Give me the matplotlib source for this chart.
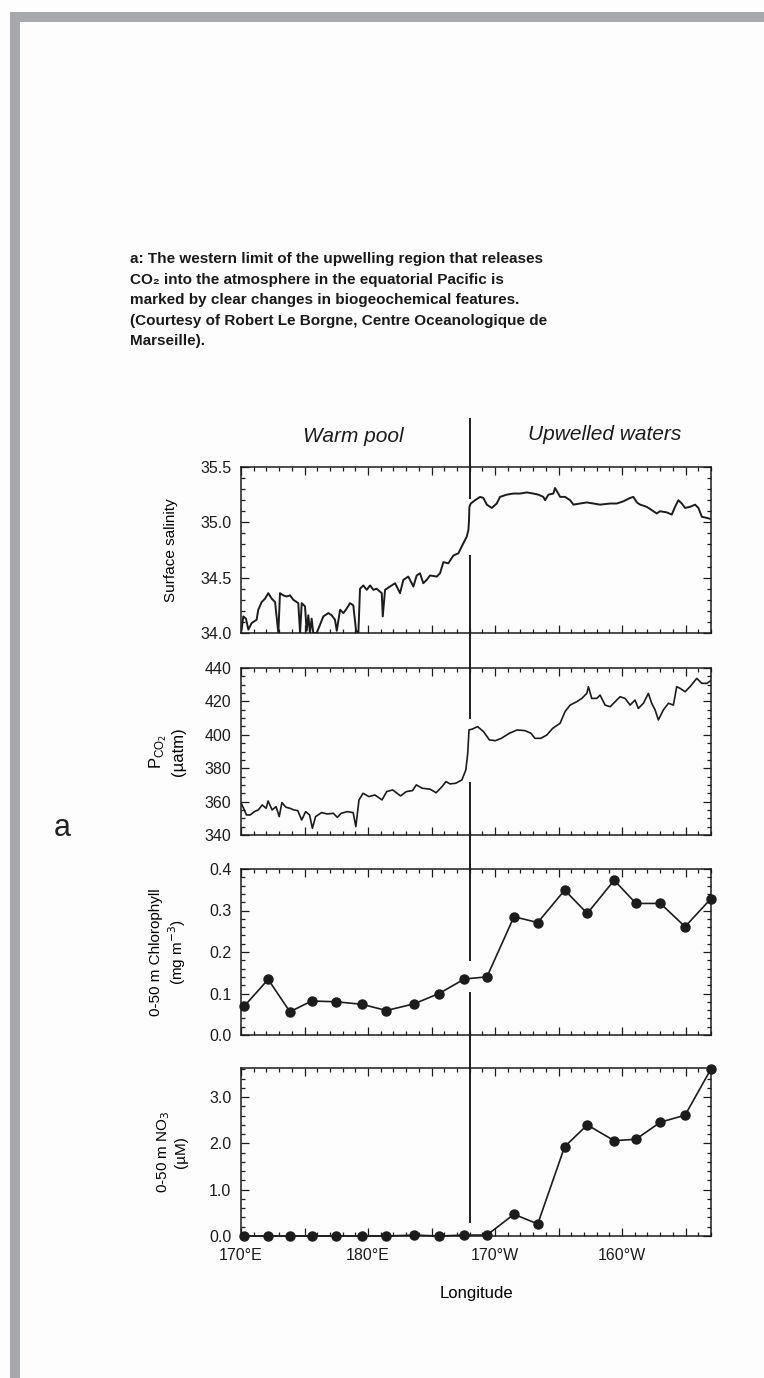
import matplotlib
matplotlib.use("Agg")
import matplotlib.pyplot as plt
import matplotlib.transforms as mtransforms
from matplotlib.patches import Rectangle
from matplotlib.lines import Line2D
from matplotlib.ticker import MultipleLocator, FormatStrFormatter

plt.rcParams['font.family'] = ['Liberation Sans', 'DejaVu Sans']

# Surface salinity trace (longitude east of Greenwich, 190 = 170W)
sal_lon = [170.05, 170.18, 170.39, 170.58, 170.84, 171.23, 171.36, 171.63, 171.89, 172.15,
           172.42, 172.68, 172.94, 173.07, 173.33, 173.60, 173.86, 174.12, 174.38, 174.51,
           174.65, 174.78, 175.04, 175.17, 175.30, 175.43, 175.56, 175.69, 175.96, 176.17,
           176.48, 176.88, 177.14, 177.40, 177.54, 177.80, 178.06, 178.32, 178.58, 178.84,
           179.06, 179.24, 179.37, 179.63, 179.90, 180.16, 180.42, 180.68, 181.08, 181.16,
           181.34, 181.73, 182.13, 182.52, 182.78, 183.17, 183.57, 183.83, 184.09, 184.35,
           184.62, 184.88, 185.41, 185.67, 185.93, 186.32, 186.72, 187.11, 187.24, 187.50,
           187.77, 187.90, 187.95, 187.98, 188.09, 188.43, 188.82, 189.08, 189.35, 189.74,
           190.13, 190.39, 190.92, 191.44, 191.97, 192.50, 193.02, 193.41, 193.80, 193.94,
           194.20, 194.59, 194.72, 194.98, 195.12, 195.51, 195.91, 196.17, 196.69, 197.22,
           197.74, 198.27, 199.06, 199.58, 200.10, 200.63, 200.89, 201.16, 201.42, 201.94,
           202.47, 202.73, 202.99, 203.52, 203.91, 204.17, 204.43, 204.70, 204.96, 205.35,
           205.75, 206.01, 206.28, 206.67, 206.98]
sal_val = [34.03, 34.15, 34.13, 34.03, 34.09, 34.12, 34.21, 34.28, 34.31, 34.36,
           34.31, 34.28, 34.00, 34.36, 34.34, 34.33, 34.34, 34.30, 34.28, 34.27,
           34.00, 34.27, 34.24, 34.02, 34.16, 34.00, 34.13, 34.00, 34.00, 34.06,
           34.15, 34.18, 34.16, 34.12, 34.02, 34.21, 34.18, 34.22, 34.27, 34.25,
           34.02, 34.00, 34.40, 34.43, 34.39, 34.43, 34.39, 34.40, 34.36, 34.15,
           34.39, 34.42, 34.45, 34.36, 34.48, 34.51, 34.42, 34.52, 34.54, 34.45,
           34.48, 34.52, 34.51, 34.54, 34.64, 34.63, 34.70, 34.72, 34.75, 34.81,
           34.87, 34.93, 35.02, 35.14, 35.17, 35.20, 35.23, 35.22, 35.16, 35.13,
           35.17, 35.23, 35.25, 35.26, 35.26, 35.27, 35.26, 35.25, 35.23, 35.20,
           35.25, 35.26, 35.31, 35.26, 35.23, 35.23, 35.20, 35.16, 35.17, 35.18,
           35.17, 35.16, 35.17, 35.17, 35.19, 35.22, 35.23, 35.18, 35.16, 35.14,
           35.10, 35.08, 35.10, 35.09, 35.07, 35.14, 35.20, 35.17, 35.13, 35.14,
           35.16, 35.13, 35.05, 35.04, 35.03]

# Surface pCO2 trace (uatm)
pco2_lon = [170.02, 170.20, 170.43, 170.73, 171.05, 171.36, 171.67, 171.98, 172.13, 172.45,
            172.76, 173.01, 173.22, 173.54, 173.85, 174.16, 174.47, 174.78, 175.09, 175.40,
            175.62, 175.87, 176.34, 176.80, 177.27, 177.58, 177.89, 178.36, 178.83, 179.04,
            179.29, 179.61, 180.07, 180.54, 181.10, 181.47, 181.94, 182.56, 183.02, 183.50,
            183.80, 184.27, 184.90, 185.36, 185.83, 186.14, 186.45, 186.91, 187.39, 187.70,
            187.85, 187.95, 188.17, 188.63, 189.09, 189.56, 190.03, 190.50, 191.12, 191.74,
            192.36, 192.83, 193.14, 193.61, 194.08, 194.54, 195.12, 195.51, 195.91, 196.43,
            196.83, 197.22, 197.35, 197.61, 198.01, 198.27, 198.66, 199.06, 199.45, 199.84,
            200.24, 200.63, 201.02, 201.28, 201.68, 202.07, 202.33, 202.60, 202.86, 203.25,
            203.65, 204.04, 204.30, 204.57, 204.96, 205.35, 205.88, 206.28, 206.67, 206.98]
pco2_val = [359.0, 356.0, 352.0, 352.0, 354.0, 355.0, 358.0, 356.0, 360.4, 355.0,
            357.0, 351.0, 359.4, 356.6, 356.0, 355.0, 354.6, 349.0, 354.0, 352.0,
            344.0, 351.0, 353.4, 352.6, 353.0, 350.6, 353.0, 354.0, 353.4, 345.0,
            361.0, 365.0, 363.0, 364.0, 361.0, 366.0, 367.0, 363.4, 366.0, 366.6,
            370.0, 368.0, 367.4, 365.3, 369.0, 372.0, 370.6, 371.0, 373.0, 379.0,
            389.0, 403.0, 403.3, 404.9, 401.9, 396.9, 396.5, 397.9, 400.9, 402.9,
            402.5, 400.9, 397.9, 397.9, 399.9, 403.9, 406.9, 413.9, 417.8, 419.8,
            421.8, 424.8, 428.8, 421.8, 421.8, 423.8, 417.8, 416.8, 419.8, 422.8,
            421.8, 417.8, 420.8, 415.8, 418.9, 424.8, 418.9, 414.9, 408.9, 414.9,
            418.9, 417.8, 428.8, 427.8, 425.8, 428.8, 433.8, 430.8, 430.8, 432.4]

# Station values, 0-50 m chlorophyll and nitrate
stn_lon = [170.27, 172.14, 173.85, 175.57, 177.50, 179.53, 181.44, 183.62, 185.59, 187.59,
           189.36, 191.49, 193.36, 195.48, 197.26, 199.38, 201.09, 203.02, 204.96, 206.98]
chl_val = [0.070, 0.134, 0.056, 0.082, 0.080, 0.074, 0.059, 0.075, 0.100, 0.135,
           0.140, 0.285, 0.271, 0.349, 0.293, 0.373, 0.317, 0.317, 0.261, 0.328]
no3_val = [0.0, 0.0, 0.0, 0.0, 0.0, 0.0, 0.0, 0.02, 0.0, 0.02,
           0.02, 0.47, 0.26, 1.93, 2.40, 2.06, 2.09, 2.46, 2.61, 3.60]

x_ticks = [170, 180, 190, 200]
x_labels = ['170°E', '180°E', '170°W', '160°W']
front_lon = 188.0

caption = ("a: The western limit of the upwelling region that releases\n"
           "CO\u2082 into the atmosphere in the equatorial Pacific is\n"
           "marked by clear changes in biogeochemical features.\n"
           "(Courtesy of Robert Le Borgne, Centre Oceanologique de\n"
           "Marseille).")

W, H = 764, 1378
fig = plt.figure(figsize=(W / 100, H / 100), dpi=100, facecolor='#fdfdfd')

# page frame
fig.add_artist(Rectangle((10 / W, 0), 10 / W, 1 - 12 / H, transform=fig.transFigure,
                         color='#a7a8ab', lw=0))
fig.add_artist(Rectangle((10 / W, 1 - 22 / H), 1 - 10 / W, 10 / H, transform=fig.transFigure,
                         color='#a7a8ab', lw=0))

fig.text(130 / W, 1 - 252 / H, caption, ha='left', va='top', fontsize=11,
         fontweight='bold', color='#1a1a1a', linespacing=1.6)
fig.text(62 / W, 1 - 828 / H, 'a', ha='center', va='center', fontsize=22, color='#222222')


def panel(top, bottom):
    return fig.add_axes([241 / W, 1 - bottom / H, 470 / W, (bottom - top) / H])


ax1 = panel(467, 633)
ax2 = panel(668, 835)
ax3 = panel(869, 1035)
ax4 = panel(1068, 1236)
axes = [ax1, ax2, ax3, ax4]

ink = '#1c1c1c'
ax1.plot(sal_lon, sal_val, color=ink, lw=1.4)
ax2.plot(pco2_lon, pco2_val, color=ink, lw=1.2)
ax3.plot(stn_lon, chl_val, color=ink, lw=1.2, marker='o', ms=6.5, clip_on=False)
ax4.plot(stn_lon, no3_val, color=ink, lw=1.2, marker='o', ms=6.5, clip_on=False)

ax1.set_ylim(34.0, 35.5)
ax1.yaxis.set_major_locator(MultipleLocator(0.5))
ax1.yaxis.set_minor_locator(MultipleLocator(0.1))
ax1.yaxis.set_major_formatter(FormatStrFormatter('%.1f'))
ax1.set_ylabel('Surface salinity', fontsize=11, labelpad=16)

ax2.set_ylim(340, 440)
ax2.yaxis.set_major_locator(MultipleLocator(20))
ax2.yaxis.set_minor_locator(MultipleLocator(5))
ax2.set_ylabel('P$_{\\mathregular{CO}_{2}}$\n(\u00b5atm)', fontsize=12, labelpad=13)

ax3.set_ylim(0, 0.4)
ax3.yaxis.set_major_locator(MultipleLocator(0.1))
ax3.yaxis.set_minor_locator(MultipleLocator(0.02))
ax3.yaxis.set_major_formatter(FormatStrFormatter('%.1f'))
ax3.set_ylabel('0-50 m Chlorophyll\n(mg m$^{-3}$)', fontsize=11, labelpad=15)

ax4.set_ylim(0, 3.63)
ax4.yaxis.set_major_locator(MultipleLocator(1.0))
ax4.yaxis.set_minor_locator(MultipleLocator(0.2))
ax4.yaxis.set_major_formatter(FormatStrFormatter('%.1f'))
ax4.set_ylabel('0-50 m NO$_3$\n(\u00b5M)', fontsize=11, labelpad=15)

for ax in axes:
    ax.set_xlim(170, 207)
    ax.xaxis.set_major_locator(MultipleLocator(5))
    ax.xaxis.set_minor_locator(MultipleLocator(1))
    ax.tick_params(which='both', direction='in', top=True, right=True, colors=ink,
                   labelsize=11.5, width=0.9)
    ax.tick_params(which='major', length=6)
    ax.tick_params(which='minor', length=3)
    ax.tick_params(axis='y', pad=7)
    for s in ax.spines.values():
        s.set_linewidth(1.1)
        s.set_color(ink)
    ax.set_facecolor('none')
    if ax is not ax4:
        ax.tick_params(labelbottom=False)

ax4.set_xticks(x_ticks + [175, 185, 195, 205])
ax4.set_xticklabels(x_labels + ['', '', '', ''])
ax4.tick_params(axis='x', pad=9)
ax4.set_xlabel('Longitude', fontsize=12, labelpad=16)

# the front between warm pool and upwelled waters, broken where it meets the data
trans = mtransforms.blended_transform_factory(ax1.transData, fig.transFigure)
for y0, y1 in [(419, 498), (556, 718), (783, 960), (993, 1222)]:
    fig.add_artist(Line2D([front_lon, front_lon], [1 - y0 / H, 1 - y1 / H],
                          transform=trans, color=ink, lw=1.4))

fig.text(353 / W, 1 - 437 / H, 'Warm pool', ha='center', va='center', fontsize=15,
         style='italic', color=ink)
fig.text(605 / W, 1 - 434 / H, 'Upwelled waters', ha='center', va='center', fontsize=15,
         style='italic', color=ink)

fig.savefig('out.png', dpi=100, facecolor=fig.get_facecolor())
